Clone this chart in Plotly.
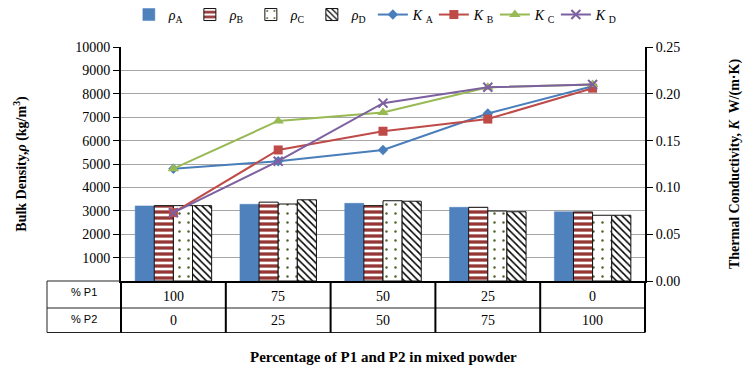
import plotly.graph_objects as go

# ---- data ----
p1 = [100, 75, 50, 25, 0]
p2 = [0, 25, 50, 75, 100]
cats = [f"{a}/{b}" for a, b in zip(p1, p2)]

rho_A = [3210, 3280, 3320, 3150, 2960]
rho_B = [3220, 3370, 3220, 3150, 2950]
rho_C = [3220, 3290, 3430, 2990, 2810]
rho_D = [3220, 3470, 3410, 2960, 2810]

K_A = [0.120, 0.128, 0.140, 0.179, 0.208]
K_B = [0.073, 0.140, 0.160, 0.173, 0.206]
K_C = [0.120, 0.171, 0.180, 0.207, 0.210]
K_D = [0.073, 0.128, 0.190, 0.207, 0.210]

left_ticks = [1000, 2000, 3000, 4000, 5000, 6000, 7000, 8000, 9000, 10000]

SERIF = "Liberation Serif"
SANS = "Liberation Sans"

fig = go.Figure()

bar_styles = [
    ("<i>ρ</i><sub>A</sub>", rho_A, dict(color="#4F81BD", line=dict(color="#4F81BD", width=0.5))),
    ("<i>ρ</i><sub>B</sub>", rho_B, dict(color="white", line=dict(color="#111111", width=1),
                                         pattern=dict(shape="-", fgcolor="#943634", bgcolor="white",
                                                      fgopacity=1, size=6, solidity=0.55))),
    ("<i>ρ</i><sub>C</sub>", rho_C, dict(color="white", line=dict(color="#111111", width=1),
                                         pattern=dict(shape=".", fgcolor="#4F6228", bgcolor="white",
                                                      fgopacity=1, size=9, solidity=0.06))),
    ("<i>ρ</i><sub>D</sub>", rho_D, dict(color="white", line=dict(color="#111111", width=1),
                                         pattern=dict(shape="\\", fgcolor="#000000", bgcolor="white",
                                                      fgopacity=1, size=5, solidity=0.3))),
]
for name, vals, mk in bar_styles:
    fig.add_trace(go.Bar(x=cats, y=vals, name=name, marker=mk, yaxis="y"))

line_styles = [
    ("<i>K</i> <sub>A</sub>", K_A, "#4A7EBB", "diamond", 8),
    ("<i>K</i> <sub>B</sub>", K_B, "#BE4B48", "square", 9),
    ("<i>K</i> <sub>C</sub>", K_C, "#98B954", "triangle-up", 10),
    ("<i>K</i> <sub>D</sub>", K_D, "#7D60A0", "x-thin", 9),
]
for name, vals, col, sym, sz in line_styles:
    mk = dict(symbol=sym, size=sz, color=col)
    if sym == "x-thin":
        mk["line"] = dict(color=col, width=2)
    fig.add_trace(go.Scatter(x=cats, y=vals, name=name, mode="lines+markers",
                             line=dict(color=col, width=2), marker=mk, yaxis="y2"))

# ---- table below the plot (paper coordinates) ----
L = -0.1412
R = 1.0
Y0, Y1, Y2 = 0.0, -0.1154, -0.2201
shapes = []
thin = dict(color="#222222", width=1)
thick = dict(color="#000000", width=2)
shapes.append(dict(type="line", xref="paper", yref="paper", x0=L, x1=0, y0=Y0, y1=Y0, line=thin))
shapes.append(dict(type="line", xref="paper", yref="paper", x0=L, x1=R, y0=Y1, y1=Y1, line=thin))
shapes.append(dict(type="line", xref="paper", yref="paper", x0=L, x1=R, y0=Y2, y1=Y2, line=thin))
shapes.append(dict(type="line", xref="paper", yref="paper", x0=L, x1=L, y0=Y0, y1=Y2, line=thin))
for k in range(len(cats) + 1):
    xk = k / len(cats)
    shapes.append(dict(type="line", xref="paper", yref="paper", x0=xk, x1=xk, y0=Y0, y1=Y2, line=thick))

annotations = []
annotations.append(dict(text="% P1", xref="paper", yref="paper", x=L / 2, y=-0.047,
                        xanchor="center", yanchor="middle",
                        showarrow=False, font=dict(family=SANS, size=11, color="#000")))
annotations.append(dict(text="% P2", xref="paper", yref="paper", x=L / 2, y=-0.162,
                        xanchor="center", yanchor="middle",
                        showarrow=False, font=dict(family=SANS, size=11, color="#000")))
for c, a, b in zip(cats, p1, p2):
    annotations.append(dict(text=str(a), xref="x", yref="paper", x=c, y=-0.068,
                            xanchor="center", yanchor="middle",
                            showarrow=False, font=dict(family=SERIF, size=14, color="#000")))
    annotations.append(dict(text=str(b), xref="x", yref="paper", x=c, y=-0.170,
                            xanchor="center", yanchor="middle",
                            showarrow=False, font=dict(family=SERIF, size=14, color="#000")))
annotations.append(dict(text="<b>Percentage of P1 and P2 in mixed powder</b>", xref="paper", yref="paper",
                        x=0.5, y=-0.325, xanchor="center", yanchor="middle",
                        showarrow=False, font=dict(family=SERIF, size=15, color="#000")))

fig.update_layout(
    width=748, height=369,
    margin=dict(l=121, r=103, t=47, b=88, autoexpand=False),
    paper_bgcolor="white", plot_bgcolor="white",
    barmode="group", bargap=0.27, bargroupgap=0,
    showlegend=True,
    legend=dict(orientation="h", x=0.015, xanchor="left", y=1.137, yanchor="middle",
                font=dict(family=SERIF, size=14, color="#000"),
                entrywidth=16, entrywidthmode="pixels", itemwidth=30,
                bgcolor="rgba(0,0,0,0)", traceorder="normal"),
    font=dict(family=SERIF, size=14, color="#000"),
    xaxis=dict(type="category", showticklabels=False, showgrid=False, ticks="",
               showline=True, linecolor="#000", linewidth=2, zeroline=False),
    yaxis=dict(range=[0, 10000], tickvals=left_ticks, ticktext=[str(v) for v in left_ticks],
               showgrid=True, gridcolor="#A6A6A6", gridwidth=1,
               ticks="outside", ticklen=6, tickcolor="#000", tickwidth=1,
               showline=True, linecolor="#000", linewidth=2, zeroline=False,
               tickfont=dict(family=SERIF, size=14, color="#000"),
               title=dict(text="<b>Bulk Density,<i>ρ</i> (kg/m<sup>3</sup>)</b>", standoff=45,
                          font=dict(family=SERIF, size=14, color="#000"))),
    yaxis2=dict(range=[0, 0.25], dtick=0.05, tickformat=".2f", overlaying="y", side="right",
                showgrid=False, ticks="outside", ticklen=6, tickcolor="#000", tickwidth=1,
                showline=True, linecolor="#000", linewidth=2, zeroline=False,
                tickfont=dict(family=SERIF, size=14, color="#000"),
                title=dict(text="<b>Thermal Conductivity, <i>K</i>  W/(m·K)</b>", standoff=50,
                           font=dict(family=SERIF, size=14, color="#000"))),
    shapes=shapes,
    annotations=annotations,
)

fig.write_html("out.html")
